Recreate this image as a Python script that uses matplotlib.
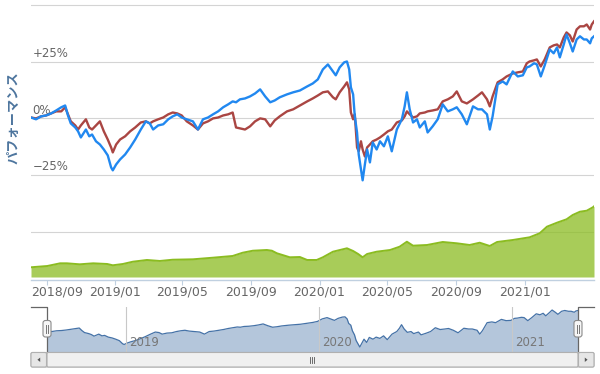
#!/usr/bin/env python3
# -*- coding: utf-8 -*-
"""
Fund performance chart with volume panel, navigator and scrollbar
"""

# =========================
# Imports
# =========================
import matplotlib
matplotlib.use("Agg")
import matplotlib.pyplot as plt
import matplotlib.dates as mdates
from matplotlib.patches import FancyBboxPatch, Polygon
import pandas as pd

# =========================
# Data
# =========================
START_DATE = "2018-08-04"

# days since START_DATE for the two performance series
perf_days = [0, 9, 18, 27, 36, 45, 54, 61, 66, 71,
             79, 84, 89, 98, 104, 109, 116, 123, 130, 137,
             143, 146, 152, 159, 168, 177, 186, 196, 205, 212,
             218, 227, 236, 245, 253, 261, 269, 278, 289, 298,
             307, 316, 325, 334, 343, 352, 360, 366, 373, 382,
             391, 400, 409, 418, 427, 435, 444, 457, 468, 480,
             493, 503, 512, 521, 530, 539, 544, 551, 559, 564,
             568, 571, 575, 578, 582, 585, 589, 592, 596, 600,
             605, 610, 617, 623, 630, 637, 644, 653, 662, 667,
             671, 676, 682, 689, 694, 703, 708, 717, 726, 735,
             744, 753, 760, 769, 778, 789, 798, 805, 814, 819,
             824, 833, 842, 849, 860, 869, 878, 885, 890, 898,
             903, 910, 917, 926, 933, 939, 944, 951, 956, 962,
             967, 974, 980, 987, 992, 998, 1001, 1005]

# fund performance (%)
fund_perf = [0.4, -0.4, 0.9, 1.3, 2.2, 3.5, 4.9, 5.7, 1.3, -2.2,
             -4.0, -5.7, -8.4, -4.9, -7.9, -7.1, -10.1, -11.5, -13.7, -16.3,
             -21.6, -22.9, -20.3, -18.1, -15.9, -12.8, -9.3, -4.9, -1.3, -2.2,
             -4.9, -3.1, -2.6, -0.4, 0.9, 1.8, 0.4, -0.4, -1.3, -4.9,
             -0.4, 0.4, 1.8, 3.1, 4.9, 6.2, 7.5, 7.1, 8.4, 8.8,
             9.7, 11.0, 12.8, 9.7, 7.1, 7.9, 9.3, 10.6, 11.5, 12.3,
             14.1, 15.4, 17.2, 21.6, 23.8, 20.7, 19.0, 22.5, 24.7, 25.1,
             21.6, 13.7, 10.6, 0.9, -6.2, -15.9, -22.5, -27.3, -20.3, -13.7,
             -19.4, -10.6, -13.7, -10.1, -12.3, -7.9, -14.5, -4.9, -0.4, 5.3,
             11.5, 4.0, -1.8, -0.4, -4.0, -1.3, -6.2, -3.5, -0.4, 6.2,
             3.1, 4.0, 4.9, 1.8, -2.6, 5.3, 4.0, 4.0, 1.8, -4.9,
             0.9, 15.0, 16.3, 15.0, 20.7, 18.5, 19.0, 22.5, 22.9, 24.3,
             23.8, 18.5, 23.4, 30.4, 28.7, 31.3, 26.9, 32.6, 37.0, 33.1,
             29.5, 34.8, 36.2, 34.8, 34.8, 33.1, 35.3, 36.2]

# benchmark performance (%)
bench_perf = [0.4, 0.0, 0.9, 1.3, 2.2, 3.1, 3.1, 4.9, 1.8, -1.3,
              -3.1, -4.9, -3.1, -0.4, -4.0, -4.9, -3.1, -1.3, -5.7, -9.3,
              -12.8, -15.0, -11.5, -9.3, -7.9, -5.7, -4.0, -1.8, -1.3, -2.2,
              -1.3, -0.4, 0.4, 1.8, 2.6, 2.2, 1.3, -1.3, -3.1, -4.9,
              -2.2, -1.3, 0.0, 0.4, 1.3, 1.8, 2.6, -4.0, -4.4, -4.9,
              -3.5, -1.3, 0.0, -0.4, -3.5, -0.9, 0.9, 3.1, 4.0, 5.7,
              7.5, 8.8, 10.1, 11.5, 11.9, 9.3, 8.4, 11.5, 14.1, 15.9,
              12.8, 2.6, -0.4, 1.8, -12.8, -14.5, -10.1, -13.7, -16.8, -12.8,
              -11.5, -10.1, -9.3, -8.4, -7.1, -5.7, -4.9, -1.8, -0.9, 0.9,
              3.1, 1.8, 0.4, 0.9, 2.2, 2.6, 3.1, 3.5, 4.0, 7.5,
              8.4, 9.7, 11.9, 7.5, 6.6, 8.4, 10.1, 11.5, 8.4, 5.3,
              9.7, 15.9, 17.2, 18.5, 19.8, 20.3, 20.7, 24.3, 25.1, 25.6,
              26.0, 22.9, 26.0, 31.3, 32.2, 32.6, 31.3, 35.7, 37.9, 36.6,
              33.9, 39.2, 40.6, 40.6, 41.4, 39.2, 41.4, 42.8]

# lower (green) panel
green_days = [0, 29, 52, 64, 87, 111, 136, 146, 164, 182,
              207, 230, 253, 289, 325, 360, 378, 396, 421, 430,
              439, 462, 480, 493, 510, 521, 539, 564, 575, 584,
              592, 600, 617, 641, 658, 671, 682, 707, 735, 760,
              783, 801, 819, 832, 860, 890, 908, 921, 939, 956,
              967, 980, 992, 1003, 1005]
green_vals = [21.6, 24.4, 30.4, 30.4, 28.2, 30.4, 28.9, 26.0, 28.9, 34.0,
              37.8, 35.6, 38.4, 39.3, 42.9, 46.7, 54.0, 58.4, 60.0, 58.4,
              52.7, 43.8, 44.4, 37.8, 37.8, 43.8, 56.2, 63.8, 57.8, 51.1,
              43.8, 51.1, 56.2, 60.0, 67.3, 78.4, 69.6, 71.1, 77.8, 74.9,
              71.1, 76.2, 68.9, 77.8, 82.2, 88.2, 97.1, 111.8, 120.7, 128.2,
              137.8, 145.1, 147.3, 154.9, 157.0]

perf_ticks = [50, 25, 0, -25]
perf_tick_labels = ["", "+25%", "0%", "\u221225%"]
month_ticks = ["2018-09-01", "2019-01-01", "2019-05-01", "2019-09-01",
               "2020-01-01", "2020-05-01", "2020-09-01", "2021-01-01"]
nav_years = ["2019-01-01", "2020-01-01", "2021-01-01"]
nav_year_labels = ["2019", "2020", "2021"]

# =========================
# Constants
# =========================
W, H = 600, 374
BLUE = "#2188f0"
RED = "#aa4643"
GREEN = "#8bbc21"
NAVY = "#4572a7"
GRID = "#d4d4d4"
AXIS = "#c0d0e0"
LABEL = "#666666"


def px_box(x0, y0, x1, y1):
    """pixel box (top-left origin) -> figure fraction rect"""
    return [x0 / W, 1 - y1 / H, (x1 - x0) / W, (y1 - y0) / H]


def to_dates(days):
    return pd.to_datetime(START_DATE) + pd.to_timedelta(days, unit="D")


def main():
    plt.rcParams["font.family"] = ["DejaVu Sans"]
    fig = plt.figure(figsize=(W / 100, H / 100), dpi=100)

    d_perf = to_dates(perf_days)
    d_green = to_dates(green_days)
    x0, x1 = d_perf[0], d_perf[-1]

    # ---- main performance panel
    ax = fig.add_axes(px_box(31, 3, 594, 190))
    ax.plot(d_perf, bench_perf, color=RED, lw=1.7, zorder=3)
    ax.plot(d_perf, fund_perf, color=BLUE, lw=1.7, zorder=4)
    ax.set_xlim(x0, x1)
    ax.set_ylim(-31.57, 50.88)
    ax.set_yticks(perf_ticks)
    ax.yaxis.grid(True, color=GRID, lw=0.8)
    ax.set_axisbelow(True)
    ax.tick_params(left=False, bottom=False, labelleft=False, labelbottom=False)
    for s in ax.spines.values():
        s.set_visible(False)
    for v, lab in zip(perf_ticks, perf_tick_labels):
        if lab:
            ax.annotate(lab, (0.003, v), xycoords=ax.get_yaxis_transform(),
                        xytext=(0, 1.2), textcoords="offset points",
                        ha="left", va="bottom", fontsize=8.5, color=LABEL)

    # ---- green panel
    ag = fig.add_axes(px_box(31, 190, 594, 280))
    ag.fill_between(d_green, green_vals, 0, color=GREEN, alpha=0.75, lw=0, zorder=2)
    ag.plot(d_green, green_vals, color=GREEN, lw=1.4, zorder=3)
    ag.set_xlim(x0, x1)
    ag.set_ylim(-6.67, 193.3)
    ag.set_yticks([100])
    ag.yaxis.grid(True, color=GRID, lw=0.8)
    ag.set_axisbelow(True)
    for s in ag.spines.values():
        s.set_visible(False)
    ag.spines["bottom"].set_visible(True)
    ag.spines["bottom"].set_color(AXIS)
    ag.spines["bottom"].set_linewidth(1.0)
    ticks = pd.to_datetime(month_ticks)
    ag.set_xticks(ticks)
    ag.tick_params(axis="x", color=AXIS, length=3.5, width=0.8, labelbottom=False)
    ag.tick_params(axis="y", left=False, labelleft=False)
    xtr = ag.get_xaxis_transform()
    for i, t in enumerate(ticks):
        lab = t.strftime("%Y/%m")
        if i == 0:
            ag.annotate(lab, (mdates.date2num(x0), 0), xycoords=xtr,
                        xytext=(0, -8.6), textcoords="offset points",
                        ha="left", va="center", fontsize=9, color=LABEL)
        else:
            ag.annotate(lab, (mdates.date2num(t), 0), xycoords=xtr,
                        xytext=(0, -8.6), textcoords="offset points",
                        ha="center", va="center", fontsize=9, color=LABEL)

    # ---- navigator
    an = fig.add_axes(px_box(31, 306.5, 594, 351.5))
    pad = pd.Timedelta(days=30.3)
    an.set_xlim(x0 - pad, x1 + pad)
    an.set_ylim(-35.1, 43.1)
    an.fill_between(d_perf, fund_perf, -35.1, color=NAVY, alpha=0.4, lw=0, zorder=2)
    an.plot(d_perf, fund_perf, color=NAVY, lw=0.9, zorder=3)
    for y, lab in zip(pd.to_datetime(nav_years), nav_year_labels):
        an.axvline(y, color="#c8c8c8", lw=0.8, zorder=4)
        an.annotate(lab, (mdates.date2num(y), 0.2), xycoords=an.get_xaxis_transform(),
                    xytext=(2, 0), textcoords="offset points",
                    ha="left", va="center", fontsize=8.5, color="#777777", zorder=5)
    an.set_axis_off()

    # selection edges in pixel space (computed from the navigator scale)
    sel_l = an.transData.transform((mdates.date2num(x0), 0))[0]
    sel_r = an.transData.transform((mdates.date2num(x1), 0))[0]

    # ---- overlay: outline, handles, scrollbar, y-axis title
    ov = fig.add_axes([0, 0, 1, 1])
    ov.set_xlim(0, W)
    ov.set_ylim(H, 0)
    ov.set_axis_off()
    ov.patch.set_alpha(0)

    top, bot = 306.5, 351.5
    ov.plot([31, sel_l, sel_l], [top, top, bot], color="#666666", lw=0.9)
    ov.plot([594, sel_r, sel_r], [top, top, bot], color="#666666", lw=0.9)

    for hx in (sel_l, sel_r):
        ov.add_patch(FancyBboxPatch((hx - 4, 320.5), 8, 16.5,
                                    boxstyle="round,pad=0,rounding_size=2.5",
                                    fc="#f6f6f6", ec="#8a8a8a", lw=0.8, zorder=6))
        for dx in (-1.3, 1.3):
            ov.plot([hx + dx, hx + dx], [324.5, 333], color="#777777", lw=0.7, zorder=7)

    sy0, sy1 = 352.5, 367
    # track + thumb
    ov.add_patch(FancyBboxPatch((31, sy0), 563, sy1 - sy0,
                                boxstyle="round,pad=0,rounding_size=1.5",
                                fc="#eeeeee", ec="#b8b8b8", lw=0.8, zorder=5))
    ov.add_patch(FancyBboxPatch((sel_l, sy0), sel_r - sel_l, sy1 - sy0,
                                boxstyle="round,pad=0,rounding_size=1.5",
                                fc="#f0f0f0", ec="#b0b0b0", lw=0.8, zorder=6))
    # arrow buttons
    ov.add_patch(FancyBboxPatch((31, sy0), sel_l - 31.5, sy1 - sy0,
                                boxstyle="round,pad=0,rounding_size=1.5",
                                fc="#e6e6e6", ec="#b0b0b0", lw=0.8, zorder=7))
    ov.add_patch(FancyBboxPatch((sel_r + 0.5, sy0), 594 - sel_r - 0.5, sy1 - sy0,
                                boxstyle="round,pad=0,rounding_size=1.5",
                                fc="#e6e6e6", ec="#b0b0b0", lw=0.8, zorder=7))
    cy = (sy0 + sy1) / 2
    lx = (31 + sel_l) / 2
    rx = (sel_r + 594) / 2
    ov.add_patch(Polygon([[lx + 1.2, cy - 2.2], [lx + 1.2, cy + 2.2], [lx - 1.6, cy]],
                         closed=True, fc="#555555", ec="none", zorder=8))
    ov.add_patch(Polygon([[rx - 1.2, cy - 2.2], [rx - 1.2, cy + 2.2], [rx + 1.6, cy]],
                         closed=True, fc="#555555", ec="none", zorder=8))
    gx = (sel_l + sel_r) / 2
    for dx in (-2, 0, 2):
        ov.plot([gx + dx, gx + dx], [cy - 3, cy + 3], color="#555555", lw=0.6, zorder=8)

    fig.text(13 / W, 1 - 118 / H, "パフォーマンス", rotation=90,
             ha="center", va="center", fontsize=9.5, fontweight="bold",
             color="#4d759e", family=["Noto Sans CJK JP", "DejaVu Sans"])

    fig.savefig("out.png", dpi=100)


if __name__ == "__main__":
    main()
